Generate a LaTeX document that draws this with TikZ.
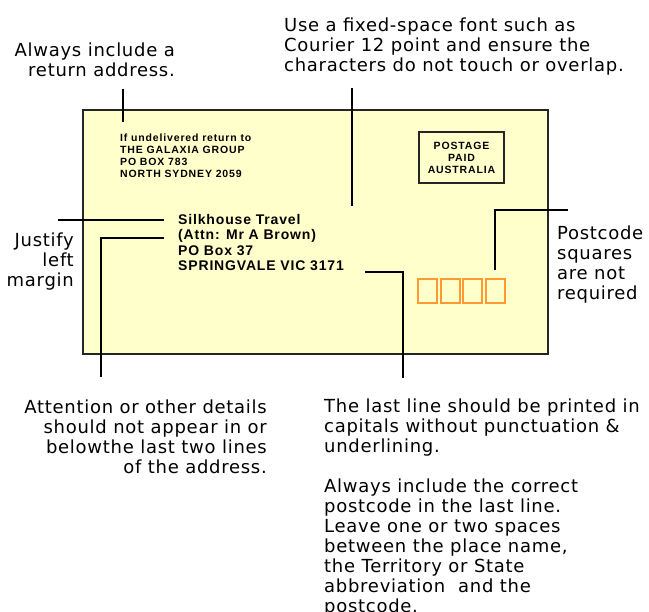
\documentclass[tikz,border=0pt]{standalone}
\usepackage{fontspec}
\newfontfamily\notefont[LetterSpace=4]{DejaVu Sans}
\newfontfamily\addrfont[LetterSpace=6]{Liberation Sans}
\newfontfamily\stampfont[LetterSpace=8]{Liberation Sans}
\definecolor{envfill}{HTML}{FFFFCC}
\definecolor{boxorange}{HTML}{FF9933}
\tikzset{
  note/.style={inner sep=0pt,font=\notefont\fontsize{18}{20}\selectfont},
  addr/.style={inner sep=0pt,align=left,font=\addrfont\bfseries\fontsize{14}{15.6}\selectfont},
  smallprint/.style={inner sep=0pt,font=\stampfont\bfseries\fontsize{10.5}{12}\selectfont},
  lead/.style={line width=1.5pt},
}
\begin{document}
\begin{tikzpicture}[x=1pt,y=-1pt]

\useasboundingbox (0,0) rectangle (649,612);

\draw[line width=2pt,draw=black!85,fill=envfill] (83,110) rectangle (548,354);

\node[smallprint,align=left,anchor=north west] (ret) at (120,133.3) {If undelivered return to\\THE GALAXIA GROUP\\PO BOX 783\\NORTH SYDNEY 2059};

\node[smallprint,align=center,draw=black!85,line width=2pt,minimum width=85pt,minimum height=51pt] (stamp) at (461.5,157.5) {POSTAGE\\PAID\\AUSTRALIA};

\node[addr,anchor=north west] (to) at (178,213.8) {Silkhouse Travel\\(Attn: Mr A Brown)\\PO Box 37\\SPRINGVALE VIC 3171};

\draw[boxorange,line width=2pt] (418,279) rectangle (437,303);
\draw[boxorange,line width=2pt] (441,279) rectangle (460,303);
\draw[boxorange,line width=2pt] (463,279) rectangle (482,303);
\draw[boxorange,line width=2pt] (486,279) rectangle (505,303);

\node[note,align=right,anchor=north east] (retnote) at (175,42.3) {Always include a\\return address.};
\node[note,align=left,anchor=north west] (fontnote) at (284,17.5) {Use a fixed-space font such as\\Courier 12 point and ensure the\\characters do not touch or overlap.};
\node[note,align=right,anchor=north east] (justnote) at (74,232.3) {Justify\\left\\margin};
\node[note,align=left,anchor=north west] (codenote) at (557,225.3) {Postcode\\squares\\are not\\required};
\node[note,align=right,anchor=north east] (attnnote) at (267,399.3) {Attention or other details\\should not appear in or\\belowthe last two lines\\of the address.};
\node[note,align=left,anchor=north west] (lastnote) at (324,398.3) {The last line should be printed in\\capitals without punctuation \&\\underlining.\\[20pt]Always include the correct\\postcode in the last line.\\Leave one or two spaces\\between the place name,\\the Territory or State\\abbreviation\ \ and the\\postcode.};

\coordinate (rettop) at (123,89);
\coordinate (retend) at (123,122);
\coordinate (fonttop) at (352,88);
\coordinate (fontend) at (352,206);
\coordinate (justend) at (58,220);
\coordinate (justtip) at (164,220);
\coordinate (attntip) at (164,238);
\coordinate (attnbend) at (101,238);
\coordinate (attnend) at (101,377);
\coordinate (lasttip) at (365,272);
\coordinate (lastbend) at (403,272);
\coordinate (lastend) at (403,378);
\coordinate (codetip) at (495,270);
\coordinate (codebend) at (495,210);
\coordinate (codeend) at (568,210);

\draw[lead] (rettop) -- (retend);
\draw[lead] (fonttop) -- (fontend);
\draw[lead] (justend) -- (justtip);
\draw[lead] (attntip) -- (attnbend) -- (attnend);
\draw[lead] (lasttip) -- (lastbend) -- (lastend);
\draw[lead] (codetip) -- (codebend) -- (codeend);

\end{tikzpicture}
\end{document}
